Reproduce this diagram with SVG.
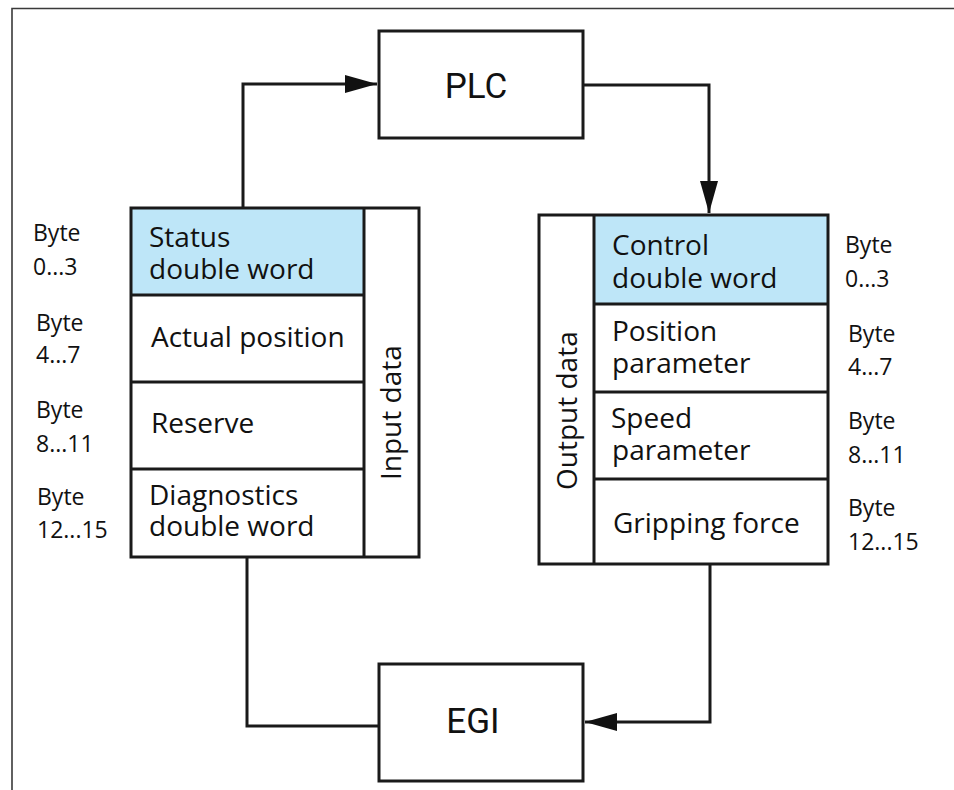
<svg xmlns="http://www.w3.org/2000/svg" width="954" height="790" viewBox="0 0 954 790">
  <style>
    .frame { fill: none; stroke: #3a3a3a; stroke-width: 1.6; }
    .box { fill: #ffffff; stroke: #1a1a1a; stroke-width: 3; }
    .cell { fill: none; stroke: #1a1a1a; stroke-width: 3; }
    .hl { fill: #bee6f8; stroke: none; }
    .wire { fill: none; stroke: #1a1a1a; stroke-width: 3; }
    .big { font-family: Roboto, "Liberation Sans", sans-serif; font-size: 35px; fill: #111; }
    .t { font-family: "Open Sans", "Noto Sans", sans-serif; font-size: 28px; fill: #111; }
    .b { font-family: "Open Sans", "Noto Sans", sans-serif; font-size: 23px; fill: #111; }
  </style>
  <defs>
    <marker id="arrow" viewBox="0 0 32 18" refX="32" refY="9" markerWidth="32" markerHeight="18" markerUnits="userSpaceOnUse" orient="auto">
      <path d="M0,0 L32,9 L0,18 Z" fill="#111"/>
    </marker>
  </defs>

  <!-- page frame (top and left edges) -->
  <path class="frame" d="M12,790 L12,8.5 L954,8.5"/>

  <!-- connectors -->
  <g id="connectors">
    <path class="wire" d="M243,208 L243,84 L377,84" marker-end="url(#arrow)"/>
    <path class="wire" d="M583,85 L709,85 L709,213" marker-end="url(#arrow)"/>
    <path class="wire" d="M710,564 L710,722 L585,722" marker-end="url(#arrow)"/>
    <path class="wire" d="M379,726 L247,726 L247,557"/>
  </g>

  <g id="plc">
    <rect class="box" x="379" y="31" width="204" height="107"/>
    <text class="big" x="476" y="98" text-anchor="middle">PLC</text>
  </g>

  <g id="egi">
    <rect class="box" x="379" y="664" width="204" height="117"/>
    <text class="big" x="473" y="733" text-anchor="middle">EGI</text>
  </g>

  <!-- input data block -->
  <g id="input-data">
    <rect class="hl" x="131" y="208" width="233" height="87"/>
    <rect class="cell" x="131" y="208" width="288" height="349"/>
    <path class="cell" d="M364,208 L364,557 M131,295 L364,295 M131,382 L364,382 M131,469 L364,469"/>
    <text class="t" x="149" y="247">Status</text>
    <text class="t" x="149" y="279">double word</text>
    <text class="t" x="151" y="347">Actual position</text>
    <text class="t" x="151" y="433">Reserve</text>
    <text class="t" x="149" y="505">Diagnostics</text>
    <text class="t" x="149" y="536">double word</text>
    <text class="t" transform="translate(401,480) rotate(-90)">Input data</text>
  </g>

  <g id="input-bytes">
    <text class="b" x="33" y="241">Byte</text>
    <text class="b" x="33" y="275">0...3</text>
    <text class="b" x="36" y="331">Byte</text>
    <text class="b" x="36" y="363">4...7</text>
    <text class="b" x="36" y="418">Byte</text>
    <text class="b" x="36" y="452">8...11</text>
    <text class="b" x="37" y="505">Byte</text>
    <text class="b" x="37" y="538">12...15</text>
  </g>

  <!-- output data block -->
  <g id="output-data">
    <rect class="hl" x="594" y="215" width="234" height="89"/>
    <rect class="cell" x="539" y="215" width="289" height="349"/>
    <path class="cell" d="M594,215 L594,564 M594,304 L828,304 M594,392 L828,392 M594,479 L828,479"/>
    <text class="t" x="612" y="255">Control</text>
    <text class="t" x="612" y="288">double word</text>
    <text class="t" x="612" y="341">Position</text>
    <text class="t" x="612" y="373">parameter</text>
    <text class="t" x="611" y="428">Speed</text>
    <text class="t" x="612" y="460">parameter</text>
    <text class="t" x="613" y="533">Gripping force</text>
    <text class="t" transform="translate(577,490) rotate(-90)">Output data</text>
  </g>

  <g id="output-bytes">
    <text class="b" x="845" y="253">Byte</text>
    <text class="b" x="845" y="287">0...3</text>
    <text class="b" x="848" y="342">Byte</text>
    <text class="b" x="848" y="375">4...7</text>
    <text class="b" x="848" y="429">Byte</text>
    <text class="b" x="848" y="463">8...11</text>
    <text class="b" x="848" y="516">Byte</text>
    <text class="b" x="848" y="550">12...15</text>
  </g>
</svg>
